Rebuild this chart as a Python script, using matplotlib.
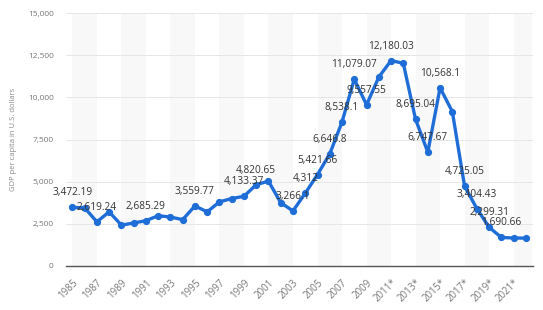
import matplotlib
matplotlib.use("Agg")
from matplotlib import pyplot as plt
from matplotlib.ticker import FuncFormatter
import numpy as np

# GDP per capita, 1985-2022
years = list(range(1985, 2023))
gdp = [3472.19, 3450, 2619.24, 3210, 2420, 2550, 2685.29, 2980, 2900, 2750,
       3559.77, 3210, 3800, 4000, 4133.37, 4820.65, 5030, 3750, 3266.1, 4312,
       5421.66, 6646.8, 8538.1, 11079.07, 9557.55, 11200, 12180.03, 12020,
       8695.04, 6747.67, 10568.1, 9150, 4725.05, 3404.43, 2299.31, 1690.66,
       1660, 1650]
labels = {1985: "3,472.19", 1987: "2,619.24", 1991: "2,685.29", 1995: "3,559.77",
          1999: "4,133.37", 2000: "4,820.65", 2003: "3,266.1", 2004: "4,312",
          2005: "5,421.66", 2006: "6,646.8", 2007: "8,538.1", 2008: "11,079.07",
          2009: "9,557.55", 2011: "12,180.03", 2013: "8,695.04", 2014: "6,747.67",
          2015: "10,568.1", 2017: "4,725.05", 2018: "3,404.43", 2019: "2,299.31",
          2020: "1,690.66"}
tick_years = list(range(1985, 2023, 2))
tick_labels = [str(y) + ("*" if y >= 2011 else "") for y in tick_years]
yticks = [0, 2500, 5000, 7500, 10000, 12500, 15000]

plt.rcParams['font.family'] = ['Open Sans', 'DejaVu Sans']
fig = plt.figure(figsize=(5.43, 3.10), dpi=100)
ax = fig.add_axes([0.122, 0.142, 0.86, 0.816])

blue = "#1f6ed8"
# alternating background bands
for start in range(1985, 2023, 4):
    ax.axvspan(start, min(start + 2, 2022.5), color="#f8f8f8", zorder=0, lw=0)

ax.plot(years, gdp, color=blue, lw=2.4, marker="o", ms=4.2, zorder=3,
        solid_joinstyle="round")

for yr, txt in labels.items():
    val = gdp[years.index(yr)]
    ax.annotate(txt, (yr, val), xytext=(0, 6.5), textcoords="offset points",
                ha="center", va="bottom", fontsize=7.3, color="#333333", zorder=4)

ax.set_xlim(1984.5, 2022.6)
ax.set_ylim(0, 15000)
ax.set_yticks(yticks)
ax.yaxis.set_major_formatter(FuncFormatter(lambda v, p: f"{int(v):,}"))
ax.set_xticks(tick_years)
ax.set_xticklabels(tick_labels, rotation=45, ha="right", rotation_mode="anchor")
ax.tick_params(axis="both", length=0, colors="#777777")
ax.tick_params(axis="y", pad=9, labelsize=6.0)
ax.tick_params(axis="x", pad=8, labelsize=7.0)
ax.grid(axis="y", color="#e6e6e6", lw=0.7, zorder=1)
ax.set_axisbelow(True)
for side in ["top", "right", "left"]:
    ax.spines[side].set_visible(False)
ax.spines["bottom"].set_color("#555555")
ax.spines["bottom"].set_linewidth(1.0)
ax.set_ylabel("GDP per capita in U.S. dollars", fontsize=5.5, color="#888888",
              labelpad=8)

fig.savefig("out.png", dpi=100)
